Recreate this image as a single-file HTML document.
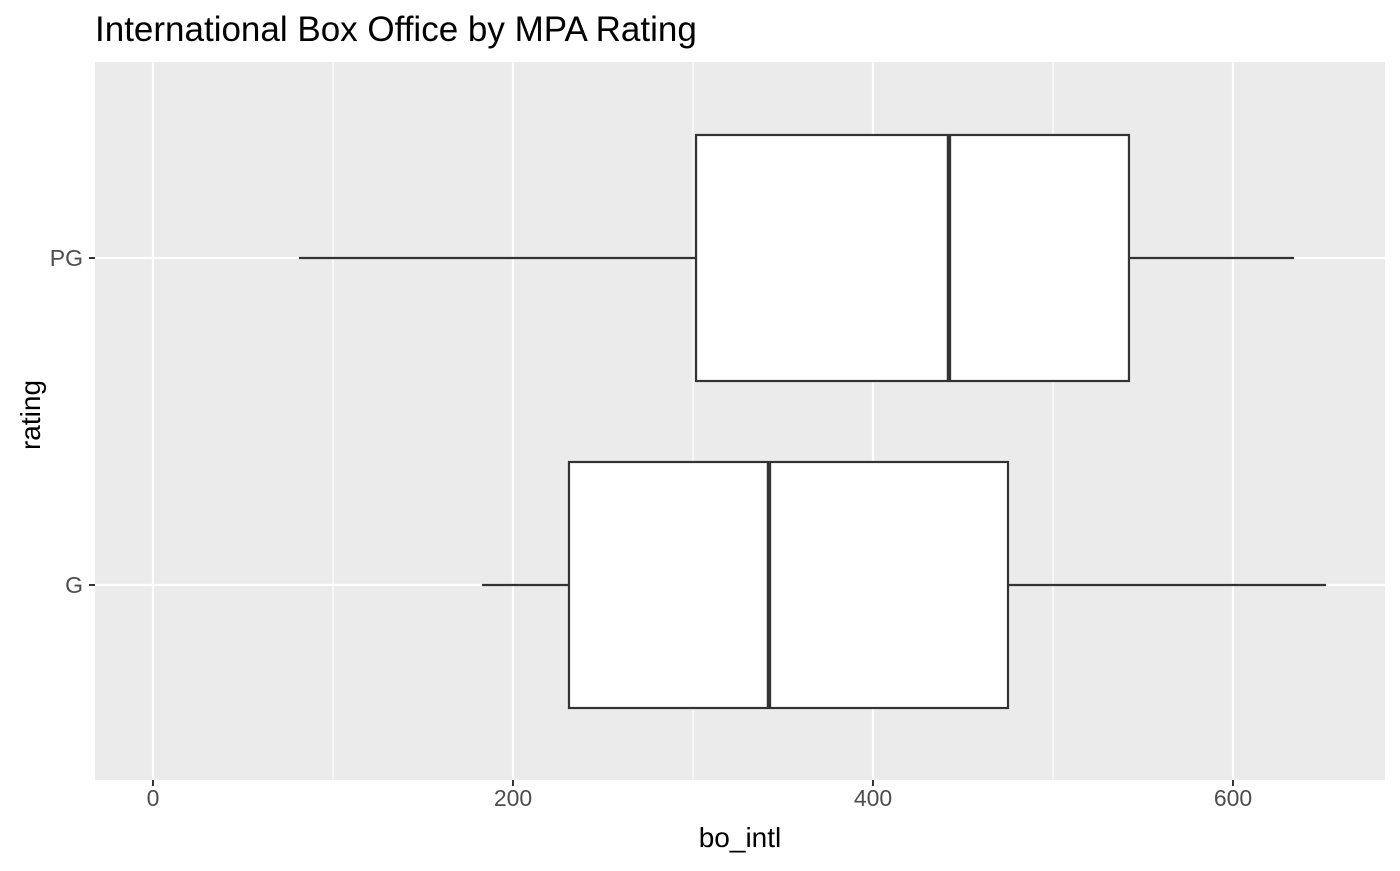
<!DOCTYPE html>
<html><head><meta charset="utf-8"><style>
body{margin:0;background:#fff;}
svg text{font-family:"Liberation Sans",Arial,sans-serif;}
</style></head><body>
<svg id="chart" width="1400" height="866" xmlns="http://www.w3.org/2000/svg">
<text x="95" y="41" font-size="35" fill="#000">International Box Office by MPA Rating</text>
<rect x="95" y="62" width="1290" height="718" fill="#ebebeb"/>
<g id="grid"></g>
<g id="boxes"></g>
<g id="axes"></g>
<text x="740" y="847" font-size="28" text-anchor="middle" fill="#000">bo_intl</text>
<text transform="translate(40,415) rotate(-90)" font-size="28" text-anchor="middle" fill="#000">rating</text>
</svg>
<script>
const categories=["G","PG"];
const lowWhisker=[182.8,81.1];
const q1=[231.1,301.7];
const median=[342.2,442.2];
const q3=[475,542.2];
const highWhisker=[651.7,633.9];
const xTicks=[0,200,400,600];
const xMinor=[100,300,500];
const NS="http://www.w3.org/2000/svg";
const x=v=>153+v*1.8;
const yPos={"G":585,"PG":258};
const y=c=>yPos[c];
const halfH=123;
function mk(tag,attrs,parent){const e=document.createElementNS(NS,tag);for(const k in attrs)e.setAttribute(k,attrs[k]);parent.appendChild(e);return e;}
const grid=document.getElementById('grid'),boxes=document.getElementById('boxes'),axes=document.getElementById('axes');
xMinor.forEach(v=>{const l=mk('line',{x1:x(v),x2:x(v),y1:62,y2:780,stroke:'#fff','stroke-width':1.1},grid);

});
xTicks.forEach(v=>{const l=mk('line',{x1:x(v),x2:x(v),y1:62,y2:780,stroke:'#fff','stroke-width':2.2},grid);


const t=mk('line',{x1:x(v),x2:x(v),y1:780,y2:786,stroke:'#333','stroke-width':2},axes);


const tx=mk('text',{x:x(v),y:806,'font-size':23,'text-anchor':'middle',fill:'#4d4d4d'},axes);tx.textContent=v;

});
categories.forEach((c,i)=>{const yy=y(c);
const g=mk('line',{x1:95,x2:1385,y1:yy,y2:yy,stroke:'#fff','stroke-width':2.2},grid);


const t=mk('line',{x1:89,x2:95,y1:yy,y2:yy,stroke:'#333','stroke-width':2},axes);


const tx=mk('text',{x:83,y:yy+8,'font-size':23,'text-anchor':'end',fill:'#4d4d4d'},axes);tx.textContent=c;


const w1=mk('line',{x1:x(lowWhisker[i]),x2:x(q1[i]),y1:yy,y2:yy,stroke:'#333','stroke-width':2.2},boxes);


const w2=mk('line',{x1:x(q3[i]),x2:x(highWhisker[i]),y1:yy,y2:yy,stroke:'#333','stroke-width':2.2},boxes);


const r=mk('rect',{x:x(q1[i]),y:yy-halfH,width:x(q3[i])-x(q1[i]),height:2*halfH,fill:'#fff',stroke:'#333','stroke-width':2.2},boxes);


const m=mk('line',{x1:x(median[i]),x2:x(median[i]),y1:yy-halfH,y2:yy+halfH,stroke:'#333','stroke-width':4.4},boxes);


});
</script>
</body></html>
